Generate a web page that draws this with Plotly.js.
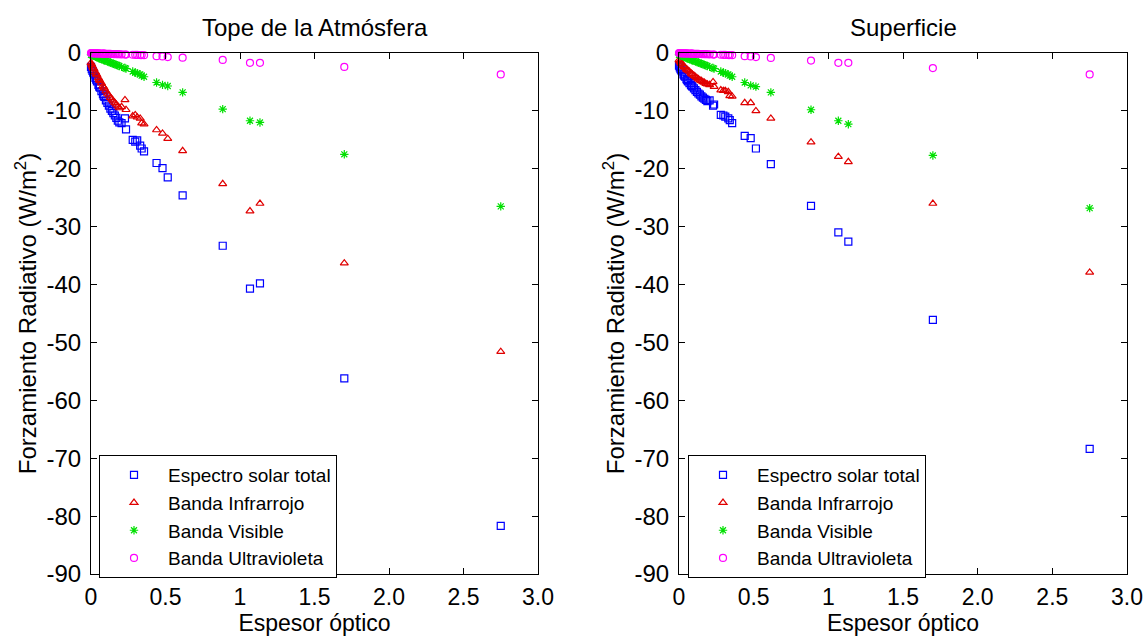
<!DOCTYPE html>
<html>
<head>
<meta charset="utf-8">
<script src="https://cdn.plot.ly/plotly-3.0.1.min.js"></script>
<style>html,body{margin:0;padding:0;background:#fff;}#chart{width:1146px;height:636px;}</style>
</head>
<body>
<div id="chart"></div>
<script>
// Aerosol optical depth (shared x values)
const espesor = [0.000,0.005,0.010,0.015,0.020, 0.030,0.035,0.040,0.050,0.055,
  0.060,0.070,0.080,0.085,0.090, 0.100,0.110,0.120,0.130,0.140,
  0.150,0.160,0.170,0.180,0.190, 0.205,0.228,0.235,0.280,0.297,
  0.310,0.330,0.340,0.356,0.440, 0.480,0.515,0.615,0.884,1.067,
  1.134,1.700,2.750];

// Top of atmosphere forcing (W/m2)
const toaTotal = [-2.4,-2.8,-3.1,-3.4,-3.7, -4.3,-4.6,-4.9,-5.5,-5.8,
  -6.0,-6.6,-7.1,-7.4,-7.6, -8.2,-8.6,-9.1,-9.6,-10.0,
  -10.4,-10.8,-11.2,-11.7,-12.0, -12.1,-11.3,-13.2,-15.0,-15.3,
  -15.1,-16.0,-16.5,-17.0,-19.0, -19.9,-21.5,-24.6,-33.3,-40.7,
  -39.8,-56.2,-81.7];
const toaIR = [-1.7,-2.0,-2.3,-2.6,-2.8, -3.3,-3.6,-3.8,-4.3,-4.6,
  -4.8,-5.2,-5.7,-5.9,-6.1, -6.6,-7.0,-7.3,-7.7,-8.0,
  -8.3,-8.6,-8.9,-9.2,-9.5, -9.3,-8.1,-9.8,-10.9,-10.7,
  -11.1,-11.3,-12.1,-12.3,-13.3, -13.9,-14.8,-16.9,-22.6,-27.3,
  -26.0,-36.3,-51.6];
const toaVis = [-0.3,-0.35,-0.4,-0.45,-0.5, -0.6,-0.65,-0.7,-0.8,-0.9,
  -0.95,-1.05,-1.15,-1.2,-1.25, -1.35,-1.45,-1.55,-1.65,-1.75,
  -1.85,-1.95,-2.05,-2.15,-2.25, -2.4,-2.6,-2.7,-3.2,-3.4,
  -3.5,-3.7,-3.9,-4.1,-5.1, -5.5,-5.7,-6.8,-9.7,-11.7,
  -12.0,-17.5,-26.5];
const toaUV = [-0.02,-0.03,-0.04,-0.05,-0.05, -0.06,-0.07,-0.07,-0.08,-0.09,
  -0.09,-0.1,-0.11,-0.12,-0.12, -0.13,-0.14,-0.15,-0.16,-0.17,
  -0.18,-0.19,-0.2,-0.21,-0.22, -0.24,-0.26,-0.27,-0.3,-0.32,
  -0.33,-0.35,-0.36,-0.38,-0.55, -0.6,-0.7,-0.8,-1.2,-1.7,
  -1.7,-2.4,-3.7];

// Surface forcing (W/m2)
const sfcTotal = [-2.2,-2.5,-2.8,-3.0,-3.2, -3.7,-3.9,-4.1,-4.5,-4.7,
  -4.9,-5.2,-5.5,-5.7,-5.8, -6.1,-6.4,-6.7,-7.0,-7.2,
  -7.5,-7.7,-7.9,-8.1,-8.3, -8.2,-9.1,-8.9,-10.7,-10.8,
  -11.0,-11.3,-11.6,-12.1,-14.3, -14.7,-16.5,-19.2,-26.4,-31.0,
  -32.6,-46.1,-68.4];
const sfcIR = [-1.2,-1.4,-1.6,-1.8,-1.9, -2.2,-2.4,-2.5,-2.8,-2.9,
  -3.0,-3.2,-3.5,-3.6,-3.7, -3.9,-4.1,-4.3,-4.5,-4.7,
  -4.8,-5.0,-5.1,-5.3,-5.4, -5.5,-5.0,-5.8,-6.4,-6.5,
  -6.5,-6.7,-7.4,-7.5,-8.6, -8.6,-10.0,-11.3,-15.4,-17.9,
  -18.8,-26.0,-37.9];
const sfcVis = [-0.3,-0.35,-0.4,-0.45,-0.5, -0.6,-0.65,-0.7,-0.8,-0.9,
  -0.95,-1.05,-1.15,-1.2,-1.25, -1.35,-1.45,-1.55,-1.65,-1.75,
  -1.85,-1.95,-2.05,-2.15,-2.25, -2.4,-2.6,-2.7,-3.2,-3.4,
  -3.5,-3.7,-3.9,-4.1,-5.1, -5.6,-5.8,-6.8,-9.8,-11.7,
  -12.3,-17.7,-26.8];
const sfcUV = [-0.02,-0.03,-0.04,-0.05,-0.05, -0.06,-0.07,-0.07,-0.08,-0.09,
  -0.09,-0.1,-0.11,-0.12,-0.12, -0.13,-0.14,-0.15,-0.16,-0.17,
  -0.18,-0.19,-0.2,-0.21,-0.22, -0.24,-0.26,-0.27,-0.3,-0.32,
  -0.33,-0.35,-0.36,-0.38,-0.55, -0.6,-0.7,-0.85,-1.3,-1.7,
  -1.7,-2.6,-3.7];

const seriesNames = ['Espectro solar total','Banda Infrarrojo','Banda Visible','Banda Ultravioleta'];
const panelTitles = ['Tope de la Atmósfera','Superficie'];
const xTickVals = [0,0.5,1,1.5,2,2.5,3];
const xTickText = ['0','0.5','1','1.5','2.0','2.5','3.0'];
const yTickVals = [-90,-80,-70,-60,-50,-40,-30,-20,-10,0];
const yTickText = ['-90','-80','-70','-60','-50','-40','-30','-20','-10','0'];

const styles = [
  {symbol:'square-open', color:'#0000ff', size:7},
  {symbol:'triangle-up-open', color:'#e00000', size:7},
  {symbol:'asterisk-open', color:'#00e000', size:7},
  {symbol:'circle-open', color:'#ff00ff', size:7}
];

const FONT = 'Liberation Sans, Arial, sans-serif';
const FS = 24;
const panels = [[toaTotal,toaIR,toaVis,toaUV],[sfcTotal,sfcIR,sfcVis,sfcUV]];
const traces = [];
panels.forEach((set,p)=>{
  set.forEach((ys,i)=>{
    const s = styles[i];
    traces.push({
      type:'scatter', mode:'markers', x:espesor, y:ys, name:seriesNames[i],
      xaxis: p===0?'x':'x2', yaxis: p===0?'y':'y2',
      legend: p===0?'legend':'legend2',
      cliponaxis:false,
      marker:{symbol:s.symbol, size:s.size, color:s.color, line:{color:s.color, width:1.2}}
    });
  });
});

function xa(domain){
  return {domain:domain, range:[0,3], tickvals:xTickVals, ticktext:xTickText,
    ticks:'inside', ticklen:6, tickcolor:'#000', showline:true, linecolor:'#000', linewidth:1,
    mirror:'ticks', showgrid:false, zeroline:false, automargin:false, ticklabelstandoff:2,
    tickfont:{family:FONT, size:23, color:'#000'},
    title:{text:'Espesor óptico', font:{family:FONT, size:23, color:'#000'}, standoff:2}};
}
function ya(domain, anchor){
  return {domain:domain, range:[-90,0], tickvals:yTickVals, ticktext:yTickText, anchor:anchor,
    ticks:'inside', ticklen:6, tickcolor:'#000', showline:true, linecolor:'#000', linewidth:1,
    mirror:'ticks', showgrid:false, zeroline:false, automargin:false, ticklabelstandoff:4,
    tickfont:{family:FONT, size:FS, color:'#000'},
    title:{text:'Forzamiento Radiativo (W/m<sup>2</sup>)', font:{family:FONT, size:FS, color:'#000'}, standoff:3}};
}
const yDom = [1-574/636, 1-53/636];
const legendStyle = (x)=>({x:x, y:1-455/636, xanchor:'left', yanchor:'top',
  bgcolor:'#fff', bordercolor:'#000', borderwidth:1, itemwidth:58,
  font:{family:FONT, size:19, color:'#000'}, tracegroupgap:0});

const layout = {
  width:1146, height:636, margin:{l:0,r:0,t:0,b:0},
  paper_bgcolor:'#fff', plot_bgcolor:'#fff', showlegend:true,
  xaxis: Object.assign(xa([91/1146, 538/1146]), {anchor:'y'}),
  yaxis: ya(yDom,'x'),
  xaxis2: Object.assign(xa([679/1146, 1127/1146]), {anchor:'y2'}),
  yaxis2: ya(yDom,'x2'),
  legend: legendStyle(99/1146),
  legend2: legendStyle(688/1146),
  annotations: [
    {text:panelTitles[0], x:(91+538)/2/1146, y:1-28/636, xref:'paper', yref:'paper', showarrow:false,
     font:{family:FONT, size:FS, color:'#000'}, xanchor:'center', yanchor:'middle'},
    {text:panelTitles[1], x:(679+1127)/2/1146, y:1-28/636, xref:'paper', yref:'paper', showarrow:false,
     font:{family:FONT, size:FS, color:'#000'}, xanchor:'center', yanchor:'middle'}
  ]
};
Plotly.newPlot('chart', traces, layout, {staticPlot:true, displayModeBar:false});
</script>
</body>
</html>
